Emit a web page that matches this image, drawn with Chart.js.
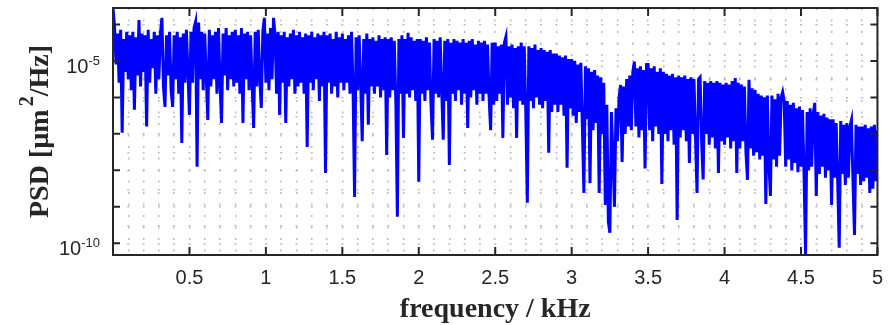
<!DOCTYPE html>
<html>
<head>
<meta charset="utf-8">
<script src="https://cdn.jsdelivr.net/npm/chart.js@4.4.1/dist/chart.umd.min.js"></script>
<style>
  html, body { margin: 0; padding: 0; background: #fff; }
  #wrap { width: 894px; height: 325px; }
</style>
</head>
<body>
<div id="wrap"><canvas id="psdChart"></canvas></div>
<script>
// PSD as log10 exponents, one value every 0.01 kHz (0 .. 5 kHz)
const freqStep = 0.01;
const psdExp = [
  -3.55, -4.05, -5.10, -4.25, -5.60, -4.15, -6.97, -4.40, -5.30, -4.20,
  -5.50, -4.30, -5.80, -4.20, -6.34, -4.35, -5.40, -3.88, -5.70, -4.25,
  -5.30, -4.30, -6.80, -4.15, -5.60, -4.40, -5.20, -4.20, -5.90, -4.30,
  -5.50, -4.25, -3.82, -5.70, -6.26, -4.30, -5.40, -4.20, -5.80, -6.26,
  -4.30, -5.50, -4.20, -5.90, -4.35, -7.25, -4.25, -5.60, -4.15, -5.30,
  -6.48, -4.20, -5.60, -4.10, -3.93, -7.90, -3.95, -5.50, -4.20, -5.80,
  -4.25, -5.40, -6.62, -4.15, -5.70, -4.30, -5.50, -4.20, -5.90, -4.10,
  -5.60, -6.70, -4.25, -5.40, -4.10, -5.80, -4.30, -5.50, -4.20, -5.70,
  -4.15, -5.60, -4.30, -5.90, -4.10, -6.70, -4.25, -5.50, -4.20, -5.80,
  -4.30, -5.60, -6.84, -4.20, -5.70, -4.15, -5.50, -6.29, -4.20, -3.82,
  -5.60, -4.25, -5.80, -4.10, -5.50, -3.82, -4.30, -5.90, -4.20, -6.48,
  -4.30, -5.60, -4.20, -6.70, -4.35, -5.70, -4.25, -5.50, -4.15, -5.90,
  -4.30, -5.70, -4.20, -5.60, -4.35, -5.90, -4.25, -7.36, -4.30, -5.60,
  -4.20, -5.80, -4.35, -5.50, -4.25, -6.10, -4.30, -5.70, -4.20, -8.07,
  -4.30, -5.60, -4.25, -5.90, -4.40, -5.70, -4.20, -6.00, -4.35, -5.60,
  -4.25, -5.80, -4.40, -5.60, -4.30, -5.90, -4.20, -5.70, -8.73, -4.35,
  -5.80, -4.30, -5.60, -7.20, -4.40, -5.90, -4.25, -6.75, -4.40, -5.70,
  -4.35, -5.90, -4.45, -5.70, -4.30, -6.00, -4.40, -5.80, -4.35, -7.58,
  -4.40, -6.00, -4.35, -5.80, -4.45, -6.10, -9.27, -4.40, -5.90, -4.30,
  -7.11, -4.40, -5.90, -4.23, -6.00, -4.35, -5.80, -4.45, -6.10, -4.40,
  -8.31, -4.40, -5.90, -4.45, -6.10, -4.35, -5.80, -4.50, -6.20, -7.16,
  -4.40, -5.90, -4.45, -6.00, -4.35, -5.80, -7.16, -4.45, -6.10, -4.40,
  -7.85, -4.50, -5.90, -4.40, -6.10, -4.45, -5.80, -4.50, -6.20, -4.40,
  -5.90, -4.50, -6.84, -4.45, -6.00, -4.40, -5.80, -4.55, -6.20, -4.45,
  -5.90, -4.50, -6.10, -4.45, -5.90, -4.55, -6.00, -6.90, -4.50, -6.20,
  -4.50, -6.10, -4.60, -5.90, -4.55, -7.11, -4.50, -4.34, -6.20, -4.60,
  -6.00, -4.55, -6.30, -4.65, -7.11, -4.60, -6.10, -4.50, -6.20, -4.60,
  -6.40, -8.89, -4.60, -6.10, -4.65, -6.30, -4.55, -6.00, -4.70, -6.20,
  -4.65, -6.30, -4.70, -6.10, -4.75, -7.52, -4.70, -6.40, -4.80, -6.20,
  -4.80, -6.40, -4.85, -6.20, -4.90, -6.50, -4.85, -7.93, -4.95, -6.30,
  -4.95, -6.50, -5.00, -6.70, -5.10, -6.40, -5.05, -6.80, -8.62, -5.15,
  -6.60, -5.20, -8.35, -5.30, -6.90, -5.25, -6.70, -5.40, -8.62, -5.45,
  -7.00, -5.60, -8.95, -6.20, -9.41, -9.71, -6.40, -7.60, -9.00, -6.30,
  -7.20, -6.00, -5.66, -7.77, -5.70, -7.00, -5.50, -6.80, -5.40, -6.90,
  -5.30, -5.02, -6.80, -5.20, -7.10, -5.15, -6.90, -5.25, -7.95, -5.10,
  -5.10, -6.90, -5.20, -7.20, -5.15, -6.80, -5.30, -7.00, -5.20, -8.37,
  -5.30, -7.00, -5.35, -7.20, -5.40, -6.90, -5.35, -7.30, -5.45, -9.36,
  -5.40, -7.10, -5.45, -6.90, -5.40, -7.20, -5.50, -7.80, -5.45, -7.00,
  -5.50, -7.10, -8.62, -5.50, -5.45, -7.20, -8.25, -5.55, -7.00, -5.60,
  -7.30, -5.55, -7.10, -5.60, -7.40, -5.55, -8.07, -5.60, -7.20, -5.65,
  -7.30, -5.60, -7.10, -5.65, -7.40, -5.55, -7.20, -5.47, -8.07, -5.60,
  -7.40, -5.65, -7.20, -5.70, -7.50, -8.26, -5.52, -7.40, -5.75, -7.60,
  -5.80, -7.50, -5.90, -7.70, -5.95, -7.60, -6.00, -8.92, -5.95, -7.80,
  -8.70, -5.95, -7.70, -6.05, -7.90, -5.90, -7.60, -6.00, -5.85, -6.10,
  -7.90, -6.10, -7.70, -6.20, -8.00, -6.15, -7.80, -6.30, -8.05, -6.25,
  -7.90, -6.35, -8.10, -10.32, -6.40, -8.00, -6.30, -7.90, -6.45, -6.15,
  -8.70, -6.40, -8.10, -6.50, -7.90, -6.45, -8.20, -6.55, -8.00, -6.60,
  -8.95, -6.60, -8.20, -6.70, -8.30, -10.12, -6.65, -8.10, -6.75, -8.40,
  -6.70, -8.20, -6.80, -6.62, -8.30, -9.77, -6.75, -8.10, -6.80, -8.40,
  -6.80, -8.30, -6.75, -8.20, -6.85, -8.62, -6.80, -8.50, -6.75, -8.30,
  -6.90
];

const xTickLabels = ['0.5', '1', '1.5', '2', '2.5', '3', '3.5', '4', '4.5', '5'];
const yDecades = [-10, -9, -8, -7, -6, -5, -4];   // major ticks / grid
const yLabelExps = [-5, -10];                      // labelled decades
const xTitle = 'frequency / kHz';
const yTitleParts = ['PSD [µm', '2', '/Hz]'];

const ink = '#262626';
const gridGray = '#bcbcbc';

const points = psdExp.map(function(e, i){
    return { x: +(i * freqStep).toFixed(2), y: Math.pow(10, e) };
});

// axis is tight to the data, like the original
const yMin = Math.pow(10, Math.min.apply(null, psdExp));
const yMax = Math.pow(10, Math.max.apply(null, psdExp));

//Box, inward ticks, y labels with superscripts and the axis titles

const axesFrame = {

    id: 'axesFrame',

    afterDatasetsDraw(chart){

        const ctx = chart.ctx;
        const a = chart.chartArea;
        const xs = chart.scales.x;
        const ys = chart.scales.y;

        ctx.save();
        ctx.strokeStyle = ink;
        ctx.lineWidth = 2;
        ctx.beginPath();

        xTickLabels.forEach(function(lbl){
            const px = xs.getPixelForValue(parseFloat(lbl));
            ctx.moveTo(px, a.bottom); ctx.lineTo(px, a.bottom - 8);
            ctx.moveTo(px, a.top); ctx.lineTo(px, a.top + 8);
        });

        yDecades.forEach(function(e){
            const py = ys.getPixelForValue(Math.pow(10, e));
            ctx.moveTo(a.left, py); ctx.lineTo(a.left + 7, py);
            ctx.moveTo(a.right, py); ctx.lineTo(a.right - 7, py);
        });

        ctx.stroke();
        ctx.strokeRect(a.left, a.top, a.right - a.left, a.bottom - a.top);

        // y tick labels 10^n
        ctx.fillStyle = ink;
        ctx.textAlign = 'right';
        ctx.textBaseline = 'alphabetic';

        yLabelExps.forEach(function(e){
            const py = ys.getPixelForValue(Math.pow(10, e));
            ctx.font = '13px "Liberation Sans"';
            const sup = String(e);
            const w = ctx.measureText(sup).width;
            ctx.fillText(sup, 100, py + 4);
            ctx.font = '20px "Liberation Sans"';
            ctx.fillText('10', 100 - w, py + 12);
        });

        // x title
        ctx.font = 'bold 28px "Liberation Serif"';
        ctx.textAlign = 'center';
        ctx.fillText(xTitle, (a.left + a.right) / 2, a.bottom + 62);

        // y title, rotated, with superscript 2
        ctx.translate(48, (a.top + a.bottom) / 2);
        ctx.rotate(-Math.PI / 2);
        ctx.textAlign = 'left';

        const fonts = ['bold 28px "Liberation Serif"', 'bold 20px "Liberation Serif"', 'bold 28px "Liberation Serif"'];
        const lifts = [0, -15, 0];
        const gaps = [3, 0, 0];
        let total = 0;
        yTitleParts.forEach(function(t, i){
            ctx.font = fonts[i];
            total += ctx.measureText(t).width + gaps[i];
        });
        let cx = -total / 2;
        yTitleParts.forEach(function(t, i){
            ctx.font = fonts[i];
            ctx.fillText(t, cx, lifts[i]);
            cx += ctx.measureText(t).width + gaps[i];
        });

        ctx.restore();

    }

};

new Chart(document.querySelector('#psdChart'), {

    type: 'line',

    data: {
        datasets: [{
            data: points,
            borderColor: '#0000ff',
            borderWidth: 3,
            pointRadius: 0,
            tension: 0,
            fill: false
        }]
    },

    options: {

        responsive: true,
        maintainAspectRatio: false,
        animation: false,
        layout: { padding: { top: 8, right: 16, left: 0, bottom: 0 } },

        plugins: {
            legend: { display: false },
            tooltip: { enabled: false }
        },

        scales: {

            x: {
                type: 'linear',
                min: 0,
                max: 5,
                afterFit(s){ s.height = 70; },
                ticks: {
                    stepSize: 0.1,
                    autoSkip: false,
                    maxRotation: 0,
                    padding: 11,
                    color: ink,
                    font: { family: '"Liberation Sans"', size: 20 },
                    callback(v){
                        const k = Math.round(v * 10);
                        return (k > 0 && k % 5 === 0) ? xTickLabels[k / 5 - 1] : '';
                    }
                },
                grid: { color: gridGray, lineWidth: 1.5, drawTicks: false },
                border: { display: false, dash: [2, 9.5] }
            },

            y: {
                type: 'logarithmic',
                min: yMin,
                max: yMax,
                afterFit(s){ s.width = 113; },
                afterBuildTicks(s){
                    const t = [];
                    yDecades.forEach(function(e){
                        t.push({ value: Math.pow(10, e) });
                        if (3 * Math.pow(10, e) < yMax) t.push({ value: 3 * Math.pow(10, e) });
                    });
                    s.ticks = t;
                },
                ticks: { display: false },
                grid: { color: gridGray, lineWidth: 1.5, drawTicks: false },
                border: { display: false, dash: [2, 13.29], dashOffset: 1 }
            }

        }

    },

    plugins: [axesFrame]

});
</script>
</body>
</html>
